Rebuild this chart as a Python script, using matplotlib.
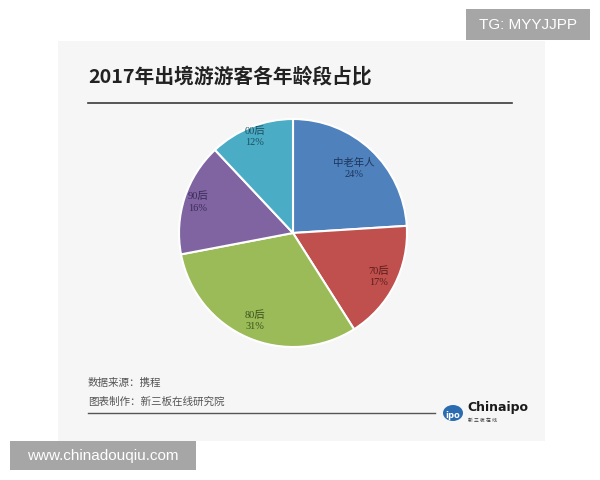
import matplotlib
matplotlib.use("Agg")
import matplotlib.pyplot as plt
import numpy as np
from matplotlib.patches import Rectangle, Circle

plt.rcParams['font.family'] = ['Noto Sans CJK SC', 'DejaVu Sans']

title = "2017年出境游游客各年龄段占比"
categories = ["中老年人", "70后", "80后", "90后", "00后"]
values = [24, 17, 31, 16, 12]
colors = ["#4f81bd", "#c0504d", "#9bbb59", "#8064a2", "#4bacc6"]
label_colors = ["#1d355c", "#5a1c1c", "#3c521a", "#3a2a58", "#1c4f5e"]
label_radius = [0.78, 0.84, 0.84, 0.88, 0.91]
source_lines = ["数据来源：携程", "图表制作：新三板在线研究院"]

W, H = 600, 480
fig = plt.figure(figsize=(6, 4.8), dpi=100)
fig.patch.set_facecolor("white")

def fx(px):
    return px / W

def fy(py):
    return 1 - py / H

# background panel
fig.patches.append(Rectangle((fx(58), fy(441)), fx(545) - fx(58), fy(41) - fy(441),
                             transform=fig.transFigure, facecolor="#f6f6f6",
                             edgecolor="none", zorder=-1))

# title
fig.text(fx(88), fy(77), title, fontsize=14.2, fontweight="bold", color="#222222",
         va="center", ha="left")
fig.add_artist(plt.Line2D([fx(88), fx(512)], [fy(103), fy(103)],
                          transform=fig.transFigure, color="#3a3a3a", lw=1.2))

# pie
cx, cy, r = 293, 233, 114
ax = fig.add_axes([fx(cx - r), fy(cy + r), (2 * r) / W, (2 * r) / H], zorder=3)
ax.patch.set_alpha(0)
wedges, _ = ax.pie(values, colors=colors, startangle=90, counterclock=False,
                   radius=1.0, wedgeprops=dict(edgecolor="white", linewidth=1.5))
ax.set_xlim(-1, 1)
ax.set_ylim(-1, 1)
ax.set_aspect("equal")
ax.axis("off")

for w, cat, v, lc, lr in zip(wedges, categories, values, label_colors, label_radius):
    ang = np.deg2rad((w.theta1 + w.theta2) / 2)
    x, y = lr * np.cos(ang), lr * np.sin(ang)
    ax.text(x, y, f"{cat}\n{v}%", ha="center", va="center", fontsize=7.5,
            color=lc, linespacing=1.35,
            family=["Liberation Serif", "Noto Sans CJK SC"])

# source text
fig.text(fx(88), fy(383), source_lines[0], fontsize=7.6, color="#555555",
         va="center", ha="left")
fig.text(fx(88), fy(402), source_lines[1], fontsize=7.6, color="#555555",
         va="center", ha="left")
fig.add_artist(plt.Line2D([fx(88), fx(435)], [fy(413), fy(413)],
                          transform=fig.transFigure, color="#555555", lw=1.0))

# logo
fig.patches.append(Circle((fx(453), fy(413)), radius=10 / W, transform=fig.transFigure,
                          facecolor="#2b6cb0", edgecolor="none"))
fig.text(fx(453), fy(415), "ipo", fontsize=6, color="white", fontweight="bold",
         ha="center", va="center", family="DejaVu Sans")
fig.text(fx(467), fy(407), "Chinaipo", fontsize=9, color="#1a1a1a", fontweight="bold",
         ha="left", va="center", family="DejaVu Sans")
fig.text(fx(468), fy(420), "新 三 板 在 线", fontsize=3.5, color="#333333",
         ha="left", va="center")

# watermark boxes
fig.patches.append(Rectangle((fx(466), fy(40)), fx(590) - fx(466), fy(9) - fy(40),
                             transform=fig.transFigure, facecolor="#a6a6a6",
                             edgecolor="none", zorder=5))
fig.text(fx(528), fy(25), "TG: MYYJJPP", fontsize=11, color="white",
         ha="center", va="center", family="Liberation Sans", zorder=6)
fig.patches.append(Rectangle((fx(10), fy(470)), fx(196) - fx(10), fy(441) - fy(470),
                             transform=fig.transFigure, facecolor="#a6a6a6",
                             edgecolor="none", zorder=5))
fig.text(fx(103), fy(456), "www.chinadouqiu.com", fontsize=11, color="white",
         ha="center", va="center", family="Liberation Sans", zorder=6)

fig.savefig("out.png", dpi=100)
